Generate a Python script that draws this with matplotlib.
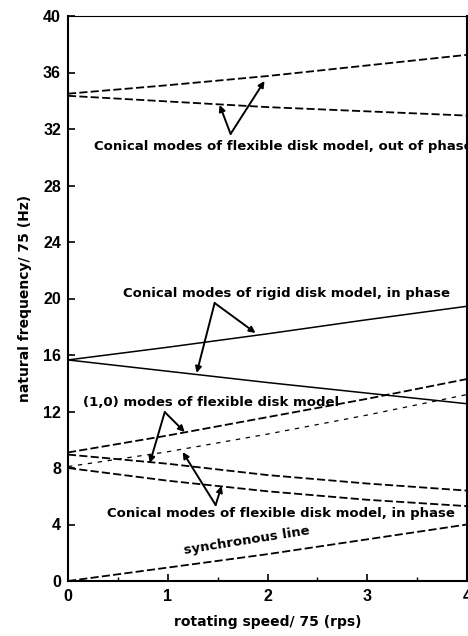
import matplotlib
matplotlib.use("Agg")
import matplotlib.pyplot as plt
from matplotlib.ticker import MultipleLocator

plt.rcParams['font.family'] = ['Liberation Sans', 'DejaVu Sans']

# rotating speed / 75 (rps)
speed = [0, 1, 2, 3, 4]

# natural frequency / 75 (Hz)
flex_out_upper = [34.5, 35.1, 35.75, 36.5, 37.25]
flex_out_lower = [34.35, 33.95, 33.55, 33.25, 32.95]
rigid_upper = [15.65, 16.55, 17.5, 18.5, 19.45]
rigid_lower = [15.65, 14.85, 14.05, 13.3, 12.55]
mode10_upper = [9.1, 10.3, 11.6, 12.9, 14.3]
mode10_lower = [8.1, 9.15, 10.4, 11.75, 13.2]
flex_in_upper = [8.95, 8.3, 7.5, 6.9, 6.4]
flex_in_lower = [8.0, 7.1, 6.35, 5.75, 5.3]
synchronous = [0.0, 0.95, 1.9, 2.95, 4.0]

x_ticks = [0, 1, 2, 3, 4]
y_ticks = [0, 4, 8, 12, 16, 20, 24, 28, 32, 36, 40]

fig = plt.figure(figsize=(4.68, 6.36), dpi=100)
ax = fig.add_axes([68/468, 55/636, 399/468, 565/636])

thick = dict(color='black', lw=1.3, linestyle=(0, (4.5, 1.8)))
thin = dict(color='black', lw=0.9, linestyle=(0, (3.5, 4.5)))
solid = dict(color='black', lw=1.1, linestyle='-')

ax.plot(speed, flex_out_upper, **thick)
ax.plot(speed, flex_out_lower, **thick)
ax.plot(speed, rigid_upper, **solid)
ax.plot(speed, rigid_lower, **solid)
ax.plot(speed, mode10_upper, **thick)
ax.plot(speed, mode10_lower, **thin)
ax.plot(speed, flex_in_upper, **thick)
ax.plot(speed, flex_in_lower, **thick)
ax.plot(speed, synchronous, **thick)

ax.set_xlim(0, 4)
ax.set_ylim(0, 40)
ax.set_xticks(x_ticks)
ax.set_yticks(y_ticks)
ax.xaxis.set_minor_locator(MultipleLocator(0.5))
ax.tick_params(axis='both', which='major', direction='in', length=5, width=1.2,
               labelsize=11.5, pad=5)
ax.tick_params(axis='x', which='minor', direction='in', length=3, width=1.0)
ax.tick_params(axis='x', which='major', pad=6)
for lab in ax.get_xticklabels() + ax.get_yticklabels():
    lab.set_fontweight('bold')

for s in ['left', 'bottom']:
    ax.spines[s].set_linewidth(1.5)
ax.spines['right'].set_linewidth(1.5)
ax.spines['top'].set_linewidth(0.8)

lblfont = ['DejaVu Sans']
ax.set_xlabel('rotating speed/ 75 (rps)', fontsize=10, fontweight='bold',
              labelpad=8, family=lblfont)
ax.set_ylabel('natural frequency/ 75 (Hz)', fontsize=10, fontweight='bold',
              labelpad=8, family=lblfont)

txt = dict(fontsize=9.5, fontweight='bold', va='center', ha='left', family=lblfont)
arr = dict(arrowstyle='-|>', color='black', lw=1.4, mutation_scale=9,
           shrinkA=0, shrinkB=0)

ax.text(0.26, 30.73, 'Conical modes of flexible disk model, out of phase', **txt)
ax.annotate('', xy=(1.97, 35.4), xytext=(1.63, 31.65), arrowprops=arr)
ax.annotate('', xy=(1.52, 33.7), xytext=(1.63, 31.65), arrowprops=arr)

ax.text(0.55, 20.32, 'Conical modes of rigid disk model, in phase', **txt)
ax.annotate('', xy=(1.88, 17.56), xytext=(1.47, 19.68), arrowprops=arr)
ax.annotate('', xy=(1.29, 14.73), xytext=(1.47, 19.68), arrowprops=arr)

ax.text(0.15, 12.62, '(1,0) modes of flexible disk model', **txt)
ax.annotate('', xy=(1.17, 10.55), xytext=(0.97, 11.96), arrowprops=arr)
ax.annotate('', xy=(0.82, 8.35), xytext=(0.97, 11.96), arrowprops=arr)

ax.text(0.39, 4.81, 'Conical modes of flexible disk model, in phase', **txt)
ax.annotate('', xy=(1.15, 9.13), xytext=(1.48, 5.38), arrowprops=arr)
ax.annotate('', xy=(1.54, 6.73), xytext=(1.48, 5.38), arrowprops=arr)

ax.text(1.79, 2.83, 'synchronous line', fontsize=9.5, fontweight='bold',
        ha='center', va='center', rotation=9, rotation_mode='anchor',
        family=lblfont)

fig.savefig('out.png', dpi=100)
